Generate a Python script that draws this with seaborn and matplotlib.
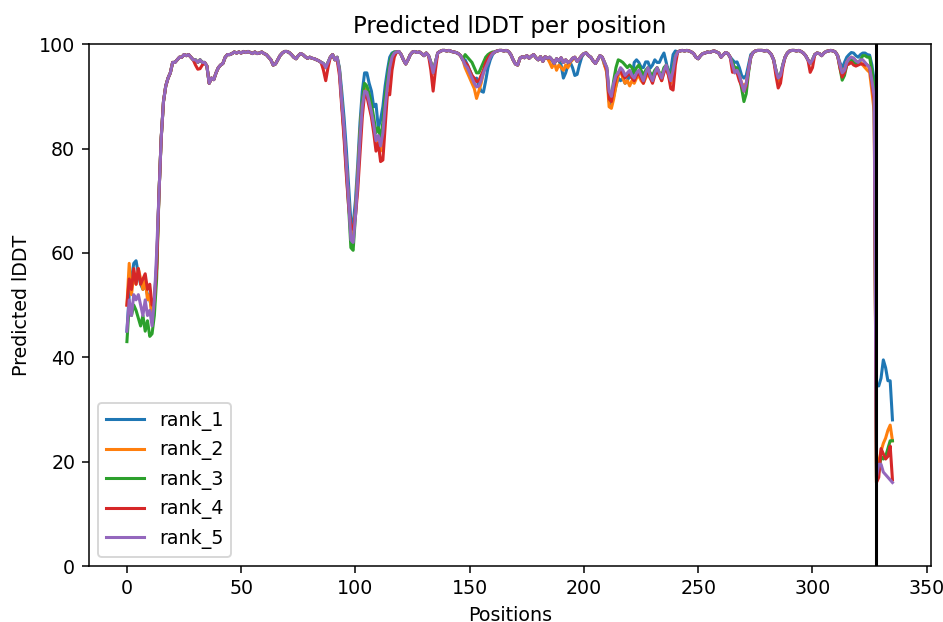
import matplotlib
matplotlib.use("Agg")
import matplotlib.pyplot as plt
import numpy as np
import pandas as pd
import seaborn as sns

ranks = ["rank_1", "rank_2", "rank_3", "rank_4", "rank_5"]
colors = ["#1f77b4", "#ff7f0e", "#2ca02c", "#d62728", "#9467bd"]
chain_break = 328

base_plddt = [
    45, 51, 48, 52, 51, 52, 50, 48, 51, 48,
    49, 46, 51, 60, 71, 82, 89, 92, 93.5, 94.5,
    96.5, 96.5, 97, 97.5, 97.5, 98, 97.8, 98, 97.5, 97,
    97, 96.5, 97, 96.5, 96.5, 95.8, 92.5, 93.5, 93.2, 94.5,
    95.5, 96, 96.3, 97.5, 98, 98, 98.2, 98.5, 98.3, 98.5,
    98.3, 98.6, 98.4, 98.6, 98.4, 98.2, 98.5, 98.2, 98.3, 98.5,
    98.2, 98, 97.5, 97, 96, 96.2, 97, 97.8, 98.3, 98.6,
    98.6, 98.4, 98, 97.5, 97.2, 97.8, 98.2, 98, 97.6, 97.3,
    97.5, 97.3, 97.2, 97, 96.8, 96.5, 96.3, 95.5, 96.5, 97.5,
    98, 97, 97.5, 95, 89, 84, 77, 70, 62.5, 62,
    67, 74, 82, 88, 91, 90.8, 89, 87, 84.5, 81.5,
    82.5, 80.5, 83, 88, 92, 95.5, 97.5, 98.3, 98.5, 98.6,
    98, 97, 96.2, 97, 98, 98.5, 98.6, 98.4, 98.5, 98.2,
    97.8, 98.3, 97.8, 96.5, 94.5, 96.5, 98.3, 98.6, 98.8, 98.8,
    98.7, 98.8, 98.6, 98.5, 98.4, 98.2, 97.8, 97, 96, 95.5,
    94.5, 93.5, 92.5, 91.8, 92, 93, 94.5, 95.5, 96.5, 97.5,
    98.2, 98.5, 98.7, 98.8, 98.8, 98.7, 98.8, 98.6, 98, 97,
    96.2, 96, 97.3, 97.6, 97.4, 97.8, 97.3, 97.7, 98, 97.4,
    97, 97.6, 96.7, 97.6, 97.3, 97.5, 97, 96.3, 97.2, 96.8,
    97.4, 96.5, 97, 96.5, 96.7, 97.3, 97.5, 96.7, 97.2, 97.8,
    98.2, 98.3, 97.8, 97.5, 96.8, 96.3, 97, 97.8, 97.5, 96.5,
    95.5, 91, 90, 92.5, 94, 94.5, 95.5, 95, 94, 94.5,
    95, 94, 93.5, 94.5, 95, 94, 93, 94.5, 95.5, 94,
    93, 94.5, 95.5, 94.5, 93.5, 95, 96, 94.5, 93, 95,
    97.5, 98.5, 98.7, 98.8, 98.7, 98.8, 98.7, 98.5, 98.2, 97.5,
    97.2, 97.8, 98.2, 98.3, 98.5, 98.4, 98.6, 98.7, 98.5, 98.3,
    97.5, 98, 98.4, 98.2, 97.5, 96, 94.5, 95, 94, 92.5,
    91, 92.5, 95, 97.5, 98.4, 98.7, 98.8, 98.8, 98.8, 98.7,
    98.8, 98.5, 98, 97, 95, 93.5, 94, 96, 97.5, 98.3,
    98.7, 98.8, 98.8, 98.7, 98.8, 98.6, 98.3, 97.8, 97, 96.3,
    97, 98, 98.3, 98.2, 97.8, 98.3, 98.6, 98.7, 98.8, 98.7,
    98.5, 97.8, 96, 94.5, 95, 96.5, 97.2, 97.5, 97.3, 96.8,
    96.5, 97, 97, 96.5, 96, 95.5, 93, 90,
]

# where a rank departs from the shared profile: {start position: values}
rank_1_diff = {
    0: [45, 52, 55, 58, 58.5, 56, 54, 53, 54, 52, 51, 49, 51, 58],
    92: [97.5, 95.5, 91, 86, 80, 73, 66, 65.5, 70, 77, 85, 91, 94.5, 94.5,
         92.5, 91, 88, 88.5, 84, 85.5, 88, 92, 95, 97.5, 98.3, 98.5],
    148: [97, 96, 95, 94, 93, 93.5, 92, 91, 90.8, 93, 95.5, 97, 98],
    190: [96, 93.5, 94.5, 96, 96.5, 95.5, 94, 94.2, 96, 97.5],
    209: [96, 95, 89, 88.5, 90, 92, 93.5, 93, 93.5, 92.5, 93, 94, 93.5,
          96.5, 97, 96.5, 95.6, 95.5, 96.6, 96.6, 95.4, 96, 97, 96.5,
          96.5, 97.5, 98.3, 96.5, 94.5, 95, 98, 98.7],
    265: [97, 96.5, 96.6, 95.5, 94, 93.5, 94, 96, 98],
    312: [96.5, 95.4, 96.5, 97.5, 98, 98.4, 98.3, 97.8, 97.5, 98, 98.3,
          98.3, 98, 97.9, 96, 93],
}
rank_2_diff = {
    0: [50, 58, 52, 56, 54, 57, 55, 53, 55, 51, 52, 47, 50, 57],
    86: [95.5, 95.5],
    92: [97.5, 95, 89, 83, 77, 70, 63.5, 63, 68, 75, 83, 89, 91.5, 91,
         89, 86.5, 84, 80.5, 82, 79.5, 82, 87, 91, 95, 97.3, 98.3],
    148: [95.5, 94.5, 93.5, 92.5, 91.5, 89.6, 91, 92.5, 94.5, 96, 97,
          97.8, 98.2],
    185: [96.5, 95.5, 96.5, 95, 96, 95.5, 95, 96, 95.5, 96.5, 97],
    209: [96, 94.5, 88, 87.7, 89.5, 92, 94, 95, 93.5, 92.5, 93, 92, 93,
          92.5, 93.5, 94, 93, 92.5, 93.5, 94.5, 93.5, 93, 94.5, 95.5,
          94.5, 93, 95, 95.5, 94, 92.5, 95, 97.5],
    270: [92],
    285: [92.5],
    320: [96.5, 96.5, 96, 95.5, 95, 94.6, 91, 87],
}
rank_3_diff = {
    0: [43, 50, 48, 50, 49, 47.5, 46, 48, 45, 47, 44, 44.5, 48, 55],
    92: [97.5, 95, 89, 83, 76, 69, 61, 60.5, 67, 74, 83, 89, 92.5, 92,
         90.5, 88.5, 86, 83, 84, 82, 85, 90, 93.5, 96.5, 98, 98.5],
    148: [98, 97.5, 97, 96.5, 95.5, 94.5, 94.5, 95.5, 96.5, 97.5, 98,
          98.3, 98.5],
    211: [90.5, 90, 93, 95.5, 97, 96.8, 96.5, 96, 95.5, 96, 95.5, 94.5,
          95.5, 96, 95, 94, 95, 95.5, 94.5, 94, 95, 95.5, 94.5, 94, 95.5,
          96, 95, 93.5, 95.5, 97.5],
    265: [96.5, 95.5, 95.5, 94, 91.5, 89, 90.5, 94.5, 97.5],
    312: [95.5, 93.1, 94, 96, 96.8, 97, 96.5, 96.2, 96.2, 97, 97.8, 97.8,
          97.5, 97.5, 95, 92],
}
rank_4_diff = {
    0: [50, 55, 53, 57, 54, 57, 54, 55, 56, 53, 54, 50, 51, 57],
    30: [96, 95.2, 95.3, 96],
    86: [95, 93, 95.5],
    92: [97, 94, 88, 82, 75, 69, 65, 64.5, 67, 72, 79, 86, 90.5, 90, 88,
         86, 83, 79.5, 81, 77.5, 77.8, 84, 90.5, 90.3, 95, 97.5],
    133: [95, 91, 95],
    148: [96.5, 96, 95, 94, 93.5, 92.8, 93, 94, 95, 96.5, 97.3, 98, 98.3],
    210: [95, 89.5, 89, 91.5, 93.5, 94.5, 95, 94, 93.5, 94, 94.5, 93.5,
          93, 94, 94.5, 93.5, 92.5, 94, 95, 93.5, 92.5, 94, 95, 94, 93,
          94.5, 95.5, 94, 91.5, 91.2, 96],
    265: [94.6, 95, 94.5, 93, 92, 91, 92, 95, 97.5],
    284: [94, 91.6, 92.5, 95.5],
    299: [94.6, 95.5],
    312: [95.5, 93.7, 94.5, 96, 96.2, 96.5, 96, 95.8, 96, 96.2, 96.2, 96,
          96, 95.5, 92.5, 89],
}
rank_5_diff = {}

# chain B, positions 328-335
tail_rank_1 = [35, 34.5, 36, 39.5, 38, 35.5, 35.5, 28]
tail_rank_2 = [16, 20, 22, 23.5, 24.5, 26, 27, 24]
tail_rank_3 = [16.5, 18, 21, 20.5, 21, 22.5, 24, 24]
tail_rank_4 = [16, 17, 22.5, 21.5, 20.5, 21, 23, 16.5]
tail_rank_5 = [17, 19.5, 19.5, 18, 17.5, 17, 16.5, 16]

diffs = [rank_1_diff, rank_2_diff, rank_3_diff, rank_4_diff, rank_5_diff]
tails = [tail_rank_1, tail_rank_2, tail_rank_3, tail_rank_4, tail_rank_5]

frames = []
for name, diff, tail in zip(ranks, diffs, tails):
    vals = list(base_plddt)
    for start, seg in diff.items():
        vals[start:start + len(seg)] = seg
    vals = vals + tail
    frames.append(pd.DataFrame({"Positions": np.arange(len(vals)),
                                "plddt": vals, "model": name}))
df = pd.concat(frames, ignore_index=True)

dpi = 137
fig, ax = plt.subplots(figsize=(943 / dpi, 622 / dpi), dpi=dpi)
sns.lineplot(data=df, x="Positions", y="plddt", hue="model",
             hue_order=ranks, palette=colors, linewidth=1.6, ax=ax)
ax.axvline(chain_break, color="black", linewidth=1.6)
ax.set_ylim(0, 100)
ax.set_title("Predicted lDDT per position")
ax.set_xlabel("Positions")
ax.set_ylabel("Predicted lDDT")
ax.legend(loc="lower left")
fig.subplots_adjust(left=0.094, right=0.987, top=0.929, bottom=0.09)
fig.savefig("out.png", dpi=dpi)
